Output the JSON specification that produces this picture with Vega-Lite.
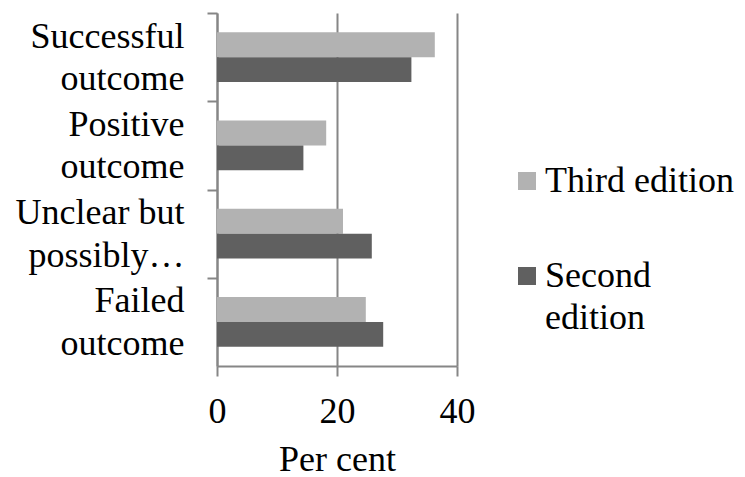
{
  "$schema": "https://vega.github.io/schema/vega-lite/v6.json",
  "width": 240,
  "height": 353,
  "autosize": {"type": "none"},
  "padding": {"left": 217, "top": 13, "right": 288, "bottom": 111},
  "background": "white",
  "config": {
    "font": "Liberation Serif",
    "view": {"stroke": null},
    "style": {"guide-label": {"lineHeight": 42}}
  },
  "data": {
    "values": [
      {"outcome": "Successful outcome", "edition": "Third edition", "pct": 36.3},
      {"outcome": "Successful outcome", "edition": "Second edition", "pct": 32.4},
      {"outcome": "Positive outcome", "edition": "Third edition", "pct": 18.2},
      {"outcome": "Positive outcome", "edition": "Second edition", "pct": 14.4},
      {"outcome": "Unclear but possibly…", "edition": "Third edition", "pct": 21.0},
      {"outcome": "Unclear but possibly…", "edition": "Second edition", "pct": 25.8},
      {"outcome": "Failed outcome", "edition": "Third edition", "pct": 24.8},
      {"outcome": "Failed outcome", "edition": "Second edition", "pct": 27.7}
    ]
  },
  "mark": {"type": "bar"},
  "encoding": {
    "y": {
      "field": "outcome",
      "type": "nominal",
      "sort": ["Successful outcome", "Positive outcome", "Unclear but possibly…", "Failed outcome"],
      "scale": {"paddingInner": 0, "paddingOuter": 0},
      "axis": {
        "title": null,
        "domainColor": "#868686",
        "domainWidth": 2,
        "tickColor": "#868686",
        "tickWidth": 2,
        "tickSize": 10,
        "tickOffset": -44.1,
        "labelOffset": 23,
        "labelFontSize": 36,
        "labelPadding": 23,
        "labelLineHeight": 42.5,
        "labelColor": "black",
        "labelAlign": "right",
        "labelBaseline": "middle",
        "labelLimit": 0,
        "grid": false,
        "labelExpr": "datum.label == 'Successful outcome' ? ['Successful', 'outcome\u00a0\u00a0'] : datum.label == 'Positive outcome' ? ['Positive\u00a0', 'outcome'] : datum.label == 'Failed outcome' ? ['Failed\u00a0\u00a0', 'outcome'] : ['Unclear but', 'possibly…']"
      }
    },
    "yOffset": {
      "field": "edition",
      "sort": ["Third edition", "Second edition"],
      "scale": {"paddingInner": 0, "paddingOuter": 0.766}
    },
    "x": {
      "field": "pct",
      "type": "quantitative",
      "scale": {"domain": [0, 40], "nice": false},
      "axis": {
        "values": [0, 20, 40],
        "title": "Per cent",
        "domainColor": "#868686",
        "domainWidth": 2,
        "tickColor": "#868686",
        "tickWidth": 2,
        "tickSize": 10,
        "grid": true,
        "gridColor": "#868686",
        "gridWidth": 2,
        "labelFontSize": 36,
        "labelColor": "black",
        "labelPadding": 18,
        "labelFlush": false,
        "titleFontSize": 36,
        "titleFontWeight": "normal",
        "titleColor": "black",
        "titlePadding": 13
      }
    },
    "color": {
      "field": "edition",
      "type": "nominal",
      "sort": ["Third edition", "Second edition"],
      "scale": {"range": ["#b2b2b2", "#606060"]},
      "legend": {
        "orient": "none",
        "legendX": 292,
        "legendY": 150,
        "title": null,
        "padding": 0,
        "symbolType": "square",
        "symbolSize": 324,
        "symbolStrokeWidth": 0,
        "labelFontSize": 36,
        "labelColor": "black",
        "labelOffset": 0,
        "labelLimit": 0,
        "rowPadding": 59,
        "labelExpr": "datum.label == 'Second edition' ? ['Second', 'edition'] : datum.label"
      }
    }
  }
}
